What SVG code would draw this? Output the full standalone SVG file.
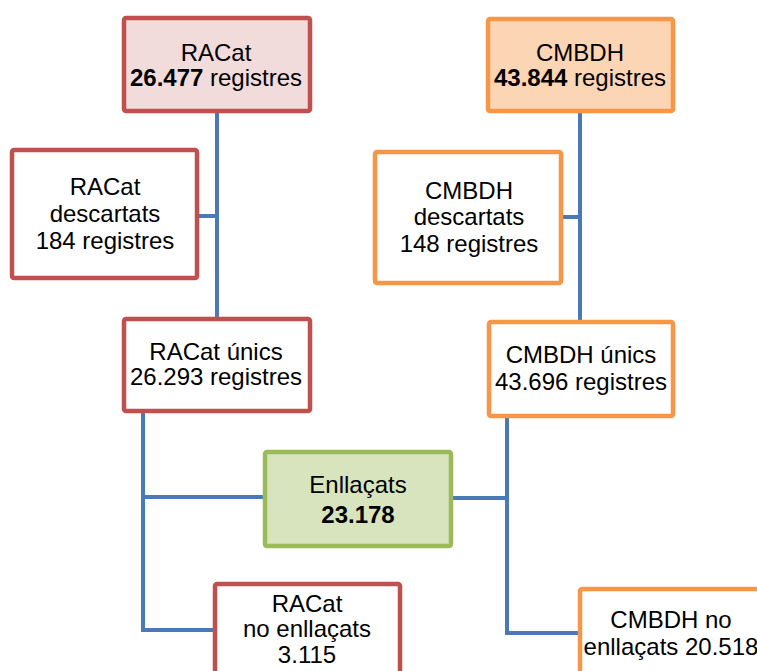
<svg xmlns="http://www.w3.org/2000/svg" width="757" height="671" viewBox="0 0 757 671">
<style>
.box{stroke-width:4.5}
.red{stroke:#C0504D}
.org{stroke:#F79646}
.grn{stroke:#9BBB59;fill:#D7E4BD}
.w{fill:#FFFFFF}
text{font-family:"Liberation Sans",Arial,sans-serif;font-size:24px;fill:#000;text-anchor:middle}
.b{font-weight:bold}
.conn{stroke:#4A7AB5;stroke-width:4;fill:none}
</style>
<rect width="757" height="671" fill="#FFFFFF"/>
<g id="connectors">
<path class="conn" d="M217,113 V317 M199,216 H217"/>
<path class="conn" d="M580,113 V320 M563,217 H580"/>
<path class="conn" d="M143,413 V630 H213 M143,497 H263"/>
<path class="conn" d="M507,418 V633 H578 M453,498 H507"/>
</g>
<g id="racat">
<rect class="box red" x="124" y="18" width="186" height="93" rx="2" fill="#F2DCDB"/>
<text x="216" y="61">RACat</text>
<text x="216" y="86"><tspan class="b">26.477</tspan> registres</text>
</g>
<g id="cmbdh">
<rect class="box org" x="488" y="19" width="185" height="92" rx="2" fill="#FCD5B5"/>
<text x="580" y="61">CMBDH</text>
<text x="580" y="86"><tspan class="b">43.844</tspan> registres</text>
</g>
<g id="racat-descartats">
<rect class="box red w" x="12" y="150" width="185" height="128" rx="2"/>
<text x="105" y="195">RACat</text>
<text x="105" y="222">descartats</text>
<text x="105" y="249">184 registres</text>
</g>
<g id="cmbdh-descartats">
<rect class="box org w" x="375" y="152" width="186" height="131" rx="2"/>
<text x="469" y="199">CMBDH</text>
<text x="469" y="225">descartats</text>
<text x="469" y="252">148 registres</text>
</g>
<g id="racat-unics">
<rect class="box red w" x="124" y="319" width="186" height="92" rx="2"/>
<text x="216" y="360">RACat únics</text>
<text x="216" y="385">26.293 registres</text>
</g>
<g id="cmbdh-unics">
<rect class="box org w" x="489" y="322" width="184" height="94" rx="2"/>
<text x="581" y="363">CMBDH únics</text>
<text x="581" y="390">43.696 registres</text>
</g>
<g id="enllacats">
<rect class="box grn" x="265" y="452" width="186" height="94" rx="2"/>
<text x="358" y="493">Enllaçats</text>
<text x="358" y="523" class="b">23.178</text>
</g>
<g id="racat-no-enllacats">
<rect class="box red w" x="215" y="584" width="185" height="100" rx="2"/>
<text x="307" y="612">RACat</text>
<text x="307" y="637">no enllaçats</text>
<text x="307" y="663">3.115</text>
</g>
<g id="cmbdh-no-enllacats">
<rect class="box org w" x="580" y="589" width="200" height="100" rx="2"/>
<text x="671" y="628">CMBDH no</text>
<text x="671" y="655">enllaçats 20.518</text>
</g>
</svg>
